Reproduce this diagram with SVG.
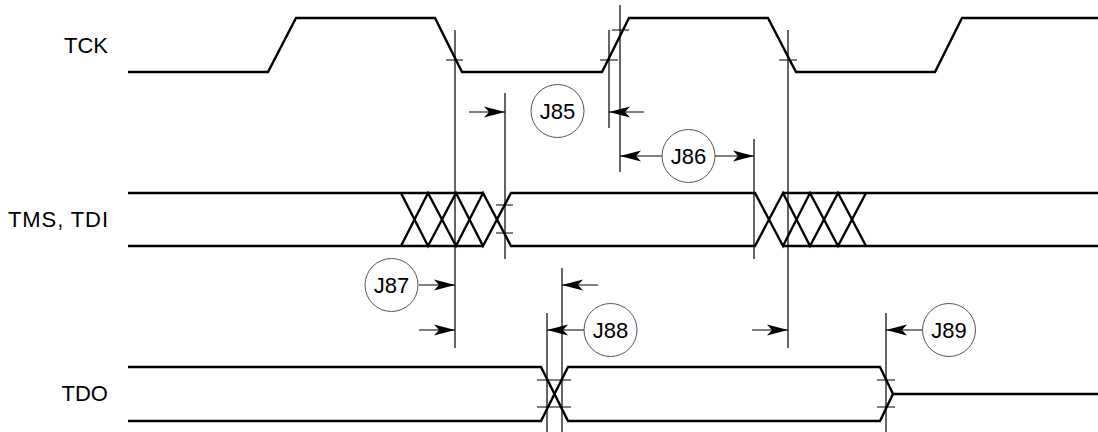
<svg xmlns="http://www.w3.org/2000/svg" width="1098" height="432" viewBox="0 0 1098 432">
<style>
.sig{fill:none;stroke:#000;stroke-width:2.4;stroke-linejoin:miter}
.ref{fill:none;stroke:#000;stroke-width:1.2}
.dim{fill:none;stroke:#000;stroke-width:1.2}
.bub{fill:#fff;stroke:#555;stroke-width:1}
.lbl{font-family:"Liberation Sans",Arial,Helvetica,sans-serif;font-size:22px;fill:#000}
.jl{font-family:"Liberation Sans",Arial,Helvetica,sans-serif;font-size:22px;fill:#000;text-anchor:middle}
</style>
<defs>
<marker id="ah" markerUnits="userSpaceOnUse" markerWidth="22" markerHeight="12" refX="0" refY="0" orient="auto" overflow="visible">
<path d="M0,0 L-21,-5.5 L-16,0 L-21,5.5 Z" fill="#000"/>
</marker>
</defs>
<rect width="1098" height="432" fill="#fff"/>
<g id="tck">
<text class="lbl" x="108" y="53" text-anchor="end">TCK</text>
<path class="sig" d="M128,72 H268 L296,18 H435 L462,72 H602 L629,18 H768 L796,72 H935 L962,18 H1098"/>
</g>
<g id="tms-tdi">
<text class="lbl" x="8" y="227" textLength="100" lengthAdjust="spacing">TMS, TDI</text>
<path class="sig" d="M128,193 H483 M128,246 H483 M783,193 H1098 M783,246 H1098"/>
<path class="sig" d="M401,193 L428,246 L456,193 L483,246 L511,193 H755 L783,246 L810,193 L838,246 L866,193"/>
<path class="sig" d="M401,246 L428,193 L456,246 L483,193 L511,246 H755 L783,193 L810,246 L838,193 L866,246"/>
</g>
<g id="tdo">
<text class="lbl" x="108" y="401" text-anchor="end">TDO</text>
<path class="sig" d="M128,367 H541 L568,421 H880 L893,394 H1098"/>
<path class="sig" d="M128,421 H541 L568,367 H880 L893,394"/>
</g>
<g id="connectors">
<path class="ref" d="M455,30 V348 M609,30 V128 M620,5 V172 M788,30 V348 M505,93 V259 M754,139 V259 M562,268 V432 M547,313 V432 M886,313 V432"/>
<path class="ref" d="M446,60 H463 M600,60 H618 M612,30 H629 M779,60 H797 M496,205 H513 M496,233 H513 M537,380 H571 M537,407 H571 M877,380 H895 M877,407 H895"/>
<line class="dim" x1="469" y1="112" x2="505" y2="112" marker-end="url(#ah)"/>
<line class="dim" x1="644" y1="112" x2="609" y2="112" marker-end="url(#ah)"/>
<line class="dim" x1="662" y1="156" x2="620" y2="156" marker-end="url(#ah)"/>
<line class="dim" x1="715" y1="156" x2="754" y2="156" marker-end="url(#ah)"/>
<line class="dim" x1="419" y1="285" x2="455" y2="285" marker-end="url(#ah)"/>
<line class="dim" x1="419" y1="330" x2="455" y2="330" marker-end="url(#ah)"/>
<line class="dim" x1="598" y1="285" x2="562" y2="285" marker-end="url(#ah)"/>
<line class="dim" x1="584" y1="330" x2="547" y2="330" marker-end="url(#ah)"/>
<line class="dim" x1="752" y1="330" x2="788" y2="330" marker-end="url(#ah)"/>
<line class="dim" x1="922" y1="330" x2="886" y2="330" marker-end="url(#ah)"/>
</g>
<g id="j85"><circle class="bub" cx="557.5" cy="111" r="26.5"/><text class="jl" x="557.5" y="119">J85</text></g>
<g id="j86"><circle class="bub" cx="688.5" cy="156" r="26.5"/><text class="jl" x="688.5" y="164">J86</text></g>
<g id="j87"><circle class="bub" cx="391.5" cy="285" r="26.5"/><text class="jl" x="391.5" y="293">J87</text></g>
<g id="j88"><circle class="bub" cx="610.5" cy="330" r="26.5"/><text class="jl" x="610.5" y="338">J88</text></g>
<g id="j89"><circle class="bub" cx="949" cy="330" r="26.5"/><text class="jl" x="949" y="338">J89</text></g>
</svg>
